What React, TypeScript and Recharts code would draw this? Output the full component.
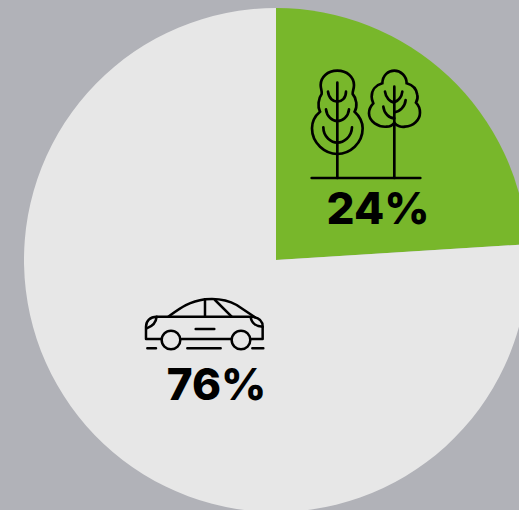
import React from 'react';
import { PieChart, Pie, Cell } from 'recharts';

const names = ['Trees', 'Cars'];
const shares = [24, 76];
const sliceColors = ['#78b72b', '#e7e7e7'];
const pctLabels = ['24%', '76%'];

const data = names.map((name, i) => ({ name, value: shares[i] }));

const textStyle = { fontFamily: 'Inter', fontWeight: 800, fontSize: 44 };

// icons, in 3x zoom units
const TreesIcon = () => (
    <g transform="translate(290,50) scale(0.3333)" fill="none" stroke="#000" strokeWidth={8} strokeLinecap="round">
        <path d="M142 62 C112 62 92 82 92 105 C92 118 97 125 95 132 C85 145 82 170 90 185 C72 200 66 220 66 235 C66 280 105 312 142 312 C180 312 218 280 218 235 C218 220 210 200 194 185 C203 170 200 145 188 132 C187 125 192 118 192 105 C192 82 172 62 142 62 Z" />
        <path d="M142 98 V384" />
        <path d="M114 125 C116 145 130 155 142 155 C155 155 168 145 168 125" />
        <path d="M108 178 C110 200 128 213 142 213 C158 213 175 200 177 178" />
        <path d="M100 232 C100 262 125 278 142 278 C160 278 185 262 186 232" />
        <path d="M313 62 C295 62 278 75 277 100 C258 105 245 120 245 140 C245 150 250 158 250 160 C240 170 237 180 237 190 C237 215 265 232 290 230 C300 230 308 225 313 218 C320 228 335 232 345 230 C370 228 390 210 390 188 C390 175 385 165 378 158 C382 150 384 142 382 135 C380 118 368 105 350 100 C350 78 332 62 313 62 Z" />
        <path d="M313 110 V384" />
        <path d="M285 125 C287 142 300 157 313 157 C325 152 335 142 337 125" />
        <path d="M280 170 C282 190 298 205 313 205 M347 150 C345 170 330 185 313 187" />
        <path d="M65 384 H391" />
    </g>
);

const CarIcon = () => (
    <g transform="translate(130,285) scale(0.3333)" fill="none" stroke="#000" strokeWidth={7.5} strokeLinecap="round" strokeLinejoin="round">
        <path d="M92 162 H48 V125 C48 108 60 95 80 95 H365 C385 97 398 105 398 125 V162 H362" />
        <path d="M155 162 H302" />
        <path d="M115 95 C150 70 175 50 225 43 C255 40 290 43 320 60 L375 97" />
        <path d="M225 43 V95 M255 45 L305 95" />
        <path d="M197 132 H253" />
        <path d="M80 95 C78 115 65 125 50 130 M362 97 C365 115 380 125 398 125" />
        <circle cx={123} cy={165} r={28} />
        <circle cx={333} cy={165} r={28} />
        <path d="M52 190 H78 M172 190 H272 M367 190 H400" />
    </g>
);

export default function App() {
    return (
        <div style={{ position: 'absolute', left: 0, top: 0, width: 519, height: 510, background: '#b1b2b8', overflow: 'hidden' }}>
            <PieChart width={519} height={510} margin={{ top: 0, right: 0, bottom: 0, left: 0 }}>
                <Pie
                    data={data}
                    dataKey="value"
                    nameKey="name"
                    cx={276}
                    cy={260}
                    innerRadius={0}
                    outerRadius={252}
                    startAngle={90}
                    endAngle={-270}
                    stroke="none"
                    isAnimationActive={false}
                >
                    {data.map((entry, index) => (
                        <Cell key={`cell-${index}`} fill={sliceColors[index]} />
                    ))}
                </Pie>
            </PieChart>
            <svg width={519} height={510} style={{ position: 'absolute', left: 0, top: 0 }}>
                <TreesIcon />
                <CarIcon />
                <text x={378} y={224} textAnchor="middle" fill="#000" style={textStyle}>{pctLabels[0]}</text>
                <text x={216.5} y={400} textAnchor="middle" fill="#000" style={textStyle}>{pctLabels[1]}</text>
            </svg>
        </div>
    );
}
